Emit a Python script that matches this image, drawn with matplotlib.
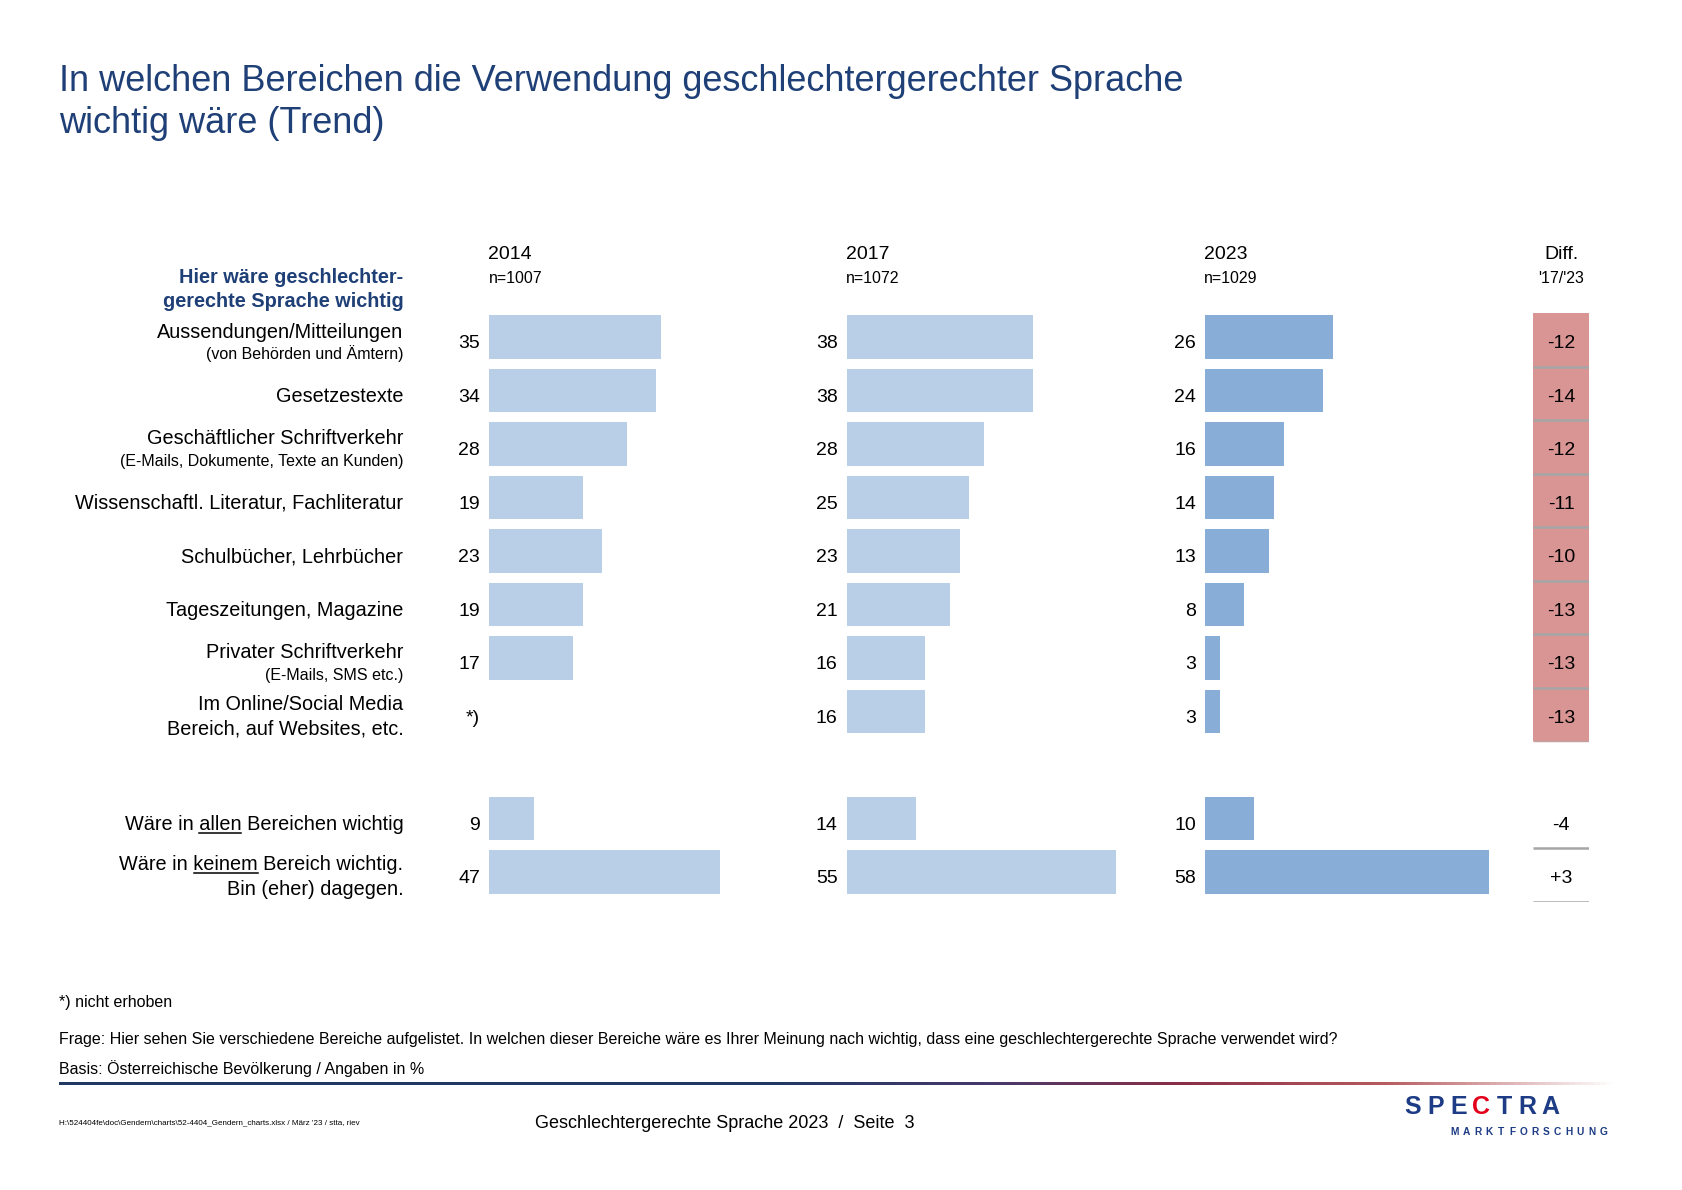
import matplotlib
matplotlib.use("Agg")
import matplotlib.pyplot as plt
from matplotlib.transforms import blended_transform_factory, offset_copy
from matplotlib.colors import LinearSegmentedColormap
from matplotlib.lines import Line2D
import numpy as np

plt.rcParams['font.family'] = ['Liberation Sans', 'DejaVu Sans']

# ---------------- data ----------------
years = ['2014', '2017', '2023']
sample_sizes = ['n=1007', 'n=1072', 'n=1029']
labels_main = [
    "Aussendungen/Mitteilungen",
    "Gesetzestexte",
    "Geschäftlicher Schriftverkehr",
    "Wissenschaftl. Literatur, Fachliteratur",
    "Schulbücher, Lehrbücher",
    "Tageszeitungen, Magazine",
    "Privater Schriftverkehr",
    "Im Online/Social Media",
    "Wäre in allen Bereichen wichtig",
    "Wäre in keinem Bereich wichtig.",
]
labels_sub = [
    "(von Behörden und Ämtern)", "", "(E-Mails, Dokumente, Texte an Kunden)", "",
    "", "", "(E-Mails, SMS etc.)", "Bereich, auf Websites, etc.", "", "Bin (eher) dagegen.",
]
sub_is_small = [True, False, True, False, False, False, True, False, False, False]
underlined_word = [None, None, None, None, None, None, None, None, "allen", "keinem"]
values_2014 = [35, 34, 28, 19, 23, 19, 17, None, 9, 47]
values_2017 = [38, 38, 28, 25, 23, 21, 16, 16, 14, 55]
values_2023 = [26, 24, 16, 14, 13, 8, 3, 3, 10, 58]
diff_17_23 = [-12, -14, -12, -11, -10, -13, -13, -13, -4, 3]
diff_highlight = [True, True, True, True, True, True, True, True, False, False]
row_index = [0, 1, 2, 3, 4, 5, 6, 7, 9, 10]
not_collected = "*)"

# ---------------- style / layout ----------------
W, H = 1683, 1190
NAVY = '#1F3F77'
LOGO_NAVY = '#1D3C85'
BAR_COLORS = ['#B8CFE7', '#B8CFE7', '#88AED7']
RED_CELL = '#D99594'
GRAY = '#A6A6A6'
TXT = '#000000'
LABEL_FS = 14.3

fig = plt.figure(figsize=(W / 100, H / 100), dpi=100)


def fx(x):
    return x / W


def fy(y):
    return 1 - y / H


ROW0, ROWSTEP = 337.0, 53.5
AX_TOP = ROW0 - 0.5 * ROWSTEP
AX_BOT = ROW0 + 10.5 * ROWSTEP
PX_PER_UNIT = 4.9
XMAX = 60
axes_left_px = [489.5, 847.0, 1205.3]
all_values = [values_2014, values_2017, values_2023]

axes = []
for k in range(3):
    ax = fig.add_axes([fx(axes_left_px[k]), fy(AX_BOT), XMAX * PX_PER_UNIT / W,
                       (AX_BOT - AX_TOP) / H])
    ax.set_xlim(0, XMAX)
    ax.set_ylim(10.5, -0.5)
    ax.axis('off')
    vals = all_values[k]
    ys = [r for r, v in zip(row_index, vals) if v is not None]
    ws = [v for v in vals if v is not None]
    ax.barh(ys, ws, height=0.82, color=BAR_COLORS[k], edgecolor='none')
    for r, v in zip(row_index, vals):
        t = offset_copy(ax.transData, fig=fig, x=0, y=-11.4, units='dots')
        ax.text(-1.9, r, str(v) if v is not None else not_collected, ha='right',
                va='baseline', fontsize=14, color=TXT, transform=t)
    axes.append(ax)
    # column headers
    fig.text(fx(axes_left_px[k] - 1), fy(259.3), years[k], fontsize=14, color=TXT,
             ha='left', va='baseline')
    fig.text(fx(axes_left_px[k] - 1), fy(283.3), sample_sizes[k], fontsize=11.5,
             color=TXT, ha='left', va='baseline')

# diff column (table cells sit ~3 px lower than the bar rows)
DIFF_L, DIFF_R = 1533.0, 1589.5
CELL_SHIFT = 3.0
axd = fig.add_axes([fx(DIFF_L), fy(AX_BOT + CELL_SHIFT), (DIFF_R - DIFF_L) / W,
                    (AX_BOT - AX_TOP) / H])
axd.set_xlim(0, 1)
axd.set_ylim(10.5, -0.5)
axd.axis('off')
hl_rows = [r for r, h in zip(row_index, diff_highlight) if h]
axd.barh(hl_rows, [1] * len(hl_rows), height=1.0, color=RED_CELL, edgecolor='none')
axd.hlines([r + 0.5 for r in hl_rows[:-1]], 0, 1, color=GRAY, lw=1.8)
axd.hlines([hl_rows[-1] + 0.5], 0, 1, color='#C0A0A0', lw=1.0)
plain_rows = [r for r, h in zip(row_index, diff_highlight) if not h]
axd.hlines([r + 0.5 for r in plain_rows], 0, 1, color=GRAY, lw=1.8)
for r, d in zip(row_index, diff_17_23):
    t = offset_copy(axd.transData, fig=fig, x=0, y=-11.4 + CELL_SHIFT, units='dots')
    axd.text(0.5, r, f"{d:+d}", ha='center', va='baseline', fontsize=14, color=TXT,
             transform=t)
fig.text(fx((DIFF_L + DIFF_R) / 2), fy(259.3), "Diff.", fontsize=14, ha='center',
         va='baseline', color=TXT)
fig.text(fx((DIFF_L + DIFF_R) / 2), fy(283.3), "'17/'23", fontsize=11.5, ha='center',
         va='baseline', color=TXT)

# row labels
LABEL_R = 403.3
ax0 = axes[0]
blend = blended_transform_factory(fig.transFigure, ax0.transData)
label_texts = []
for i, r in enumerate(row_index):
    main, sub = labels_main[i], labels_sub[i]
    if not sub:
        dy_main = 11.4
    elif sub_is_small[i]:
        dy_main, dy_sub = 0.5, 22.0
    else:
        dy_main, dy_sub = -1.8, 23.3
    t = offset_copy(blend, fig=fig, x=0, y=-dy_main, units='dots')
    tm = fig.text(fx(LABEL_R), r, main, ha='right', va='baseline', fontsize=LABEL_FS,
                  color=TXT, transform=t)
    label_texts.append((i, r, tm, dy_main))
    if sub:
        t2 = offset_copy(blend, fig=fig, x=0, y=-dy_sub, units='dots')
        fig.text(fx(LABEL_R), r, sub, ha='right', va='baseline',
                 fontsize=11.5 if sub_is_small[i] else LABEL_FS, color=TXT, transform=t2)

# bold header above labels
fig.text(fx(LABEL_R), fy(283.3), "Hier wäre geschlechter-", ha='right', va='baseline',
         fontsize=14.3, fontweight='bold', color=NAVY)
fig.text(fx(LABEL_R), fy(307.3), "gerechte Sprache wichtig", ha='right', va='baseline',
         fontsize=14.3, fontweight='bold', color=NAVY)

# title
fig.text(fx(59), fy(91), "In welchen Bereichen die Verwendung geschlechtergerechter Sprache",
         fontsize=26, color=NAVY, ha='left', va='baseline')
fig.text(fx(59), fy(133), "wichtig wäre (Trend)", fontsize=26, color=NAVY, ha='left',
         va='baseline')

# footnotes
fig.text(fx(59), fy(1002), "*) nicht erhoben", fontsize=11.5, color=TXT, ha='left', va='center')
fig.text(fx(59), fy(1039.5),
         "Frage: Hier sehen Sie verschiedene Bereiche aufgelistet. In welchen dieser Bereiche "
         "wäre es Ihrer Meinung nach wichtig, dass eine geschlechtergerechte Sprache verwendet wird?",
         fontsize=11.5, color=TXT, ha='left', va='center')
fig.text(fx(59), fy(1068.5), "Basis: Österreichische Bevölkerung / Angaben in %",
         fontsize=11.5, color=TXT, ha='left', va='center')

# gradient rule
axg = fig.add_axes([fx(59), fy(1085), (1618 - 59) / W, 3.5 / H])
cmap = LinearSegmentedColormap.from_list('rule', [
    (0.0, '#1F3864'), (0.45, '#1F3864'), (0.6, '#47396B'), (0.72, '#8A2E47'),
    (0.85, '#B65A5E'), (1.0, '#FFFFFF')])
axg.imshow(np.linspace(0, 1, 512)[None, :], aspect='auto', cmap=cmap,
           extent=(0, 1, 0, 1))
axg.axis('off')

# page footer
fig.text(fx(59), fy(1123), "H:\\524404fe\\doc\\Gendern\\charts\\52-4404_Gendern_charts.xlsx / März '23 / stta, riev",
         fontsize=5.8, color=TXT, ha='left', va='center')
fig.text(fx(725), fy(1123), "Geschlechtergerechte Sprache 2023  /  Seite  3",
         fontsize=13, color=TXT, ha='center', va='center')

# logo
logo_letters = list("SPECTRA")
for j, ch in enumerate(logo_letters):
    fig.text(fx(1412.7 + j * 22.9), fy(1107), ch, fontsize=18, fontweight='bold',
             color='#E3001B' if ch == 'C' else LOGO_NAVY, ha='center', va='center')
for j, ch in enumerate("MARKTFORSCHUNG"):
    fig.text(fx(1455 + j * 11.4), fy(1132), ch, fontsize=7.3, fontweight='bold',
             color=LOGO_NAVY, ha='center', va='center')

# underline selected words
fig.canvas.draw()
renderer = fig.canvas.get_renderer()
to_fig = fig.transFigure.inverted()
for i, r, tm, dy in label_texts:
    word = underlined_word[i]
    if not word:
        continue
    full = labels_main[i]
    bb = tm.get_window_extent(renderer)
    idx = full.index(word) + len(word)
    tmp = fig.text(0, 0, full[:idx], fontsize=LABEL_FS)
    w_pre = tmp.get_window_extent(renderer).width
    tmp.set_text(word)
    w_word = tmp.get_window_extent(renderer).width
    tmp.remove()
    x_end = bb.x0 + w_pre
    x_start = x_end - w_word
    base_y = ax0.transData.transform((0, r))[1] - dy
    y_line = base_y - 3.0
    (xa, ya), (xb, yb) = to_fig.transform([(x_start, y_line), (x_end, y_line)])
    fig.add_artist(Line2D([xa, xb], [ya, yb], transform=fig.transFigure, color=TXT, lw=1.1))

fig.savefig('out.png', dpi=100)
